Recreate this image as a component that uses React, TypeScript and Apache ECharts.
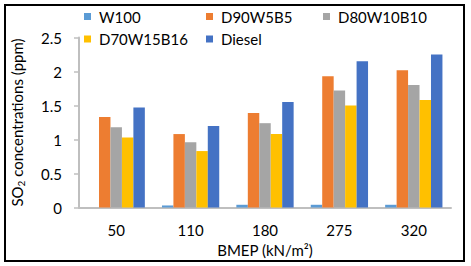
import React, { useEffect, useRef } from "react";
import * as echarts from "echarts";

const categories = ["50", "110", "180", "275", "320"];
const seriesNames = ["W100", "D90W5B5", "D80W10B10", "D70W15B16", "Diesel"];
const w100 = [0, 0.03, 0.04, 0.04, 0.04];
const d90w5b5 = [1.33, 1.08, 1.39, 1.93, 2.02];
const d80w10b10 = [1.18, 0.96, 1.24, 1.72, 1.8];
const d70w15b16 = [1.03, 0.83, 1.08, 1.5, 1.58];
const diesel = [1.47, 1.2, 1.55, 2.15, 2.25];
const colors = ["#5B9BD5", "#ED7D31", "#A5A5A5", "#FFC000", "#4472C4"];

const FONT = "Lato";

export default function App() {
  const ref = useRef<HTMLDivElement>(null);
  useEffect(() => {
    document.body.style.margin = "0";
    if (!ref.current) return;
    const chart = echarts.init(ref.current, null, { renderer: "svg" });
    const values = [w100, d90w5b5, d80w10b10, d70w15b16, diesel];
    const legendPos = [
      [84, 8.5],
      [206, 8.5],
      [323, 8.5],
      [84, 31],
      [206, 31],
    ];
    chart.setOption({
      animation: false,
      backgroundColor: "#fff",
      grid: { left: 75, right: 20, top: 37.5, bottom: 58.5, containLabel: false },
      legend: seriesNames.map((n, i) => ({
        data: [n],
        left: legendPos[i][0],
        top: legendPos[i][1],
        padding: 0,
        itemWidth: 7,
        itemHeight: 7,
        icon: "rect",
        selectedMode: false,
        textStyle: {
          fontFamily: FONT,
          fontSize: 15,
          color: "#000",
          lineHeight: 16,
          padding: [0, 0, 0, 3],
        },
      })),
      xAxis: {
        type: "category",
        data: categories,
        name: "BMEP (kN/m²)",
        nameLocation: "middle",
        nameGap: 32,
        nameTextStyle: { fontFamily: FONT, fontSize: 15, color: "#000" },
        axisLine: { lineStyle: { color: "#BFBFBF", width: 2 } },
        axisTick: { show: false },
        axisLabel: { fontFamily: FONT, fontSize: 15, color: "#000", margin: 15 },
      },
      yAxis: {
        type: "value",
        min: 0,
        max: 2.5,
        interval: 0.5,
        name: "SO{sub|2} concentrations (ppm)",
        nameLocation: "middle",
        nameGap: 53,
        nameRotate: 90,
        nameTextStyle: {
          fontFamily: FONT,
          fontSize: 15,
          color: "#000",
          lineHeight: 18,
          rich: {
            sub: {
              fontFamily: FONT,
              fontSize: 10,
              color: "#000",
              lineHeight: 10,
              verticalAlign: "bottom",
            },
          },
        },
        splitLine: { show: false },
        axisLine: { show: true, lineStyle: { color: "#BFBFBF", width: 2 } },
        axisTick: { show: true, length: 5, lineStyle: { color: "#BFBFBF", width: 1.5 } },
        axisLabel: { fontFamily: FONT, fontSize: 15, color: "#000", margin: 17 },
      },
      series: seriesNames.map((n, i) => ({
        name: n,
        type: "bar",
        data: values[i],
        barGap: "0%",
        barCategoryGap: "23%",
        itemStyle: { color: colors[i] },
      })),
      graphic: [
        {
          type: "rect",
          shape: { x: 5, y: 5, width: 459, height: 256 },
          style: { fill: "none", stroke: "#000", lineWidth: 2 },
          z: 100,
        },
      ],
    });
    return () => chart.dispose();
  }, []);
  return <div ref={ref} style={{ width: 471, height: 266 }} />;
}
